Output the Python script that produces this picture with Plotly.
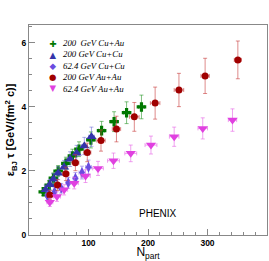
import plotly.graph_objects as go

# ---- data ----
cuau200_npart = [24, 34, 41, 49, 62, 73, 84, 104, 122, 143, 164, 189]
cuau200_val = [1.35, 1.56, 1.78, 2.0, 2.24, 2.47, 2.68, 2.97, 3.26, 3.54, 3.82, 4.0]
cuau200_err = [0.12, 0.14, 0.16, 0.17, 0.19, 0.21, 0.23, 0.25, 0.29, 0.31, 0.34, 0.37]
cuau200_xerr = [3, 3, 3, 4, 4, 4, 4, 5, 5, 5, 5, 5]

cucu200_npart = [28, 35, 41, 49, 59, 69, 80, 93, 105]
cucu200_val = [1.41, 1.57, 1.74, 1.93, 2.12, 2.37, 2.55, 2.78, 3.07]
cucu200_err = [0.15, 0.17, 0.18, 0.2, 0.21, 0.23, 0.25, 0.27, 0.3]
cucu200_xerr = [3, 3, 3, 4, 4, 4, 4, 5, 5]

cucu62_npart = [31, 43, 54, 66, 78, 89, 100]
cucu62_val = [1.22, 1.35, 1.46, 1.63, 1.77, 1.95, 2.12]
cucu62_err = [0.13, 0.14, 0.15, 0.17, 0.18, 0.2, 0.22]
cucu62_xerr = [3, 3, 4, 4, 4, 5, 5]

auau200_npart = [35, 48, 62, 78, 98, 121, 147, 177, 212, 252, 296, 351]
auau200_val = [1.25, 1.56, 1.91, 2.26, 2.58, 2.95, 3.31, 3.69, 4.12, 4.53, 4.97, 5.47]
auau200_err = [0.14, 0.17, 0.21, 0.25, 0.29, 0.33, 0.4, 0.45, 0.5, 0.52, 0.55, 0.59]
auau200_xerr = [4, 5, 5, 6, 6, 7, 7, 8, 8, 8, 7, 6]

auau62_npart = [35, 47, 59, 76, 95, 116, 142, 171, 205, 244, 292, 342]
auau62_val = [1.02, 1.2, 1.41, 1.62, 1.84, 2.08, 2.32, 2.55, 2.81, 3.07, 3.33, 3.59]
auau62_err = [0.13, 0.15, 0.16, 0.18, 0.2, 0.22, 0.24, 0.26, 0.28, 0.3, 0.33, 0.35]
auau62_xerr = [5, 6, 6, 7, 8, 9, 10, 10, 10, 8, 8, 7]

series = [
    ("200  GeV Cu+Au", cuau200_npart, cuau200_val, cuau200_err, cuau200_xerr,
     "#007800", "rgba(40,150,40,0.6)", "cross", 8, "\u271a"),
    ("200 GeV Cu+Cu", cucu200_npart, cucu200_val, cucu200_err, cucu200_xerr,
     "#3434aa", "rgba(90,90,210,0.5)", "triangle-up", 9, "\u25b2"),
    ("62.4 GeV Cu+Cu", cucu62_npart, cucu62_val, cucu62_err, cucu62_xerr,
     "#6a4ce0", "rgba(120,90,230,0.5)", "diamond-tall", 8, "\u25c6"),
    ("200 GeV Au+Au", auau200_npart, auau200_val, auau200_err, auau200_xerr,
     "#a00000", "rgba(200,60,60,0.6)", "circle", 7, "\u25cf"),
    ("62.4 GeV Au+Au", auau62_npart, auau62_val, auau62_err, auau62_xerr,
     "#e040e0", "rgba(230,100,230,0.6)", "triangle-down", 9, "\u25bc"),
]

fig = go.Figure()
for name, xs, ys, ey, ex, col, ecol, sym, sz, _ in series:
    fig.add_trace(go.Scatter(
        x=xs, y=ys, mode="markers", name=name, showlegend=False,
        marker=dict(symbol=sym, size=sz, color=col, line=dict(width=0)),
        error_y=dict(type="data", array=ey, color=ecol, thickness=1, width=2),
        error_x=dict(type="data", array=ex, color=ecol, thickness=1, width=2),
    ))

# legend drawn as text (symbols column + labels column)
sym_lines = "<br>".join(
    f"<span style='color:{s[5]}'>{s[9]}</span>" for s in series)
txt_lines = "<br>".join(f"<i>{s[0]}</i>" for s in series)
fig.add_annotation(xref="paper", yref="paper", x=0.097, y=0.805,
                   xanchor="center", yanchor="middle", showarrow=False,
                   text=sym_lines, align="center", borderpad=0,
                   font=dict(family="DejaVu Sans", size=8.5, color="black"))
fig.add_annotation(xref="paper", yref="paper", x=0.14, y=0.805,
                   xanchor="left", yanchor="middle", showarrow=False,
                   text=txt_lines, align="left", borderpad=0,
                   font=dict(family="Liberation Serif", size=8.8, color="black"))
fig.add_annotation(x=181, y=0.66, xanchor="left", yanchor="middle",
                   showarrow=False, text="PHENIX",
                   font=dict(family="Liberation Sans", size=10, color="black"))

axis_common = dict(showline=True, mirror=True, linecolor="#888888", linewidth=1,
                   ticks="inside", ticklen=6, tickcolor="#888888", showgrid=False,
                   zeroline=False, automargin=False,
                   tickfont=dict(family="Liberation Sans", size=8.5, color="black",
                                 weight="bold"))

fig.update_xaxes(range=[0, 400], tickvals=[100, 200, 300, 400],
                 minor=dict(dtick=20, ticks="inside", ticklen=3, tickcolor="#888888"),
                 title=dict(text="N<sub>part</sub>", standoff=1,
                            font=dict(family="Liberation Sans", size=12, color="black")),
                 **axis_common)
fig.update_yaxes(range=[0, 6.56], tickvals=[0, 2, 4, 6],
                 minor=dict(dtick=0.5, ticks="inside", ticklen=3, tickcolor="#888888"),
                 title=dict(text="\u03b5<sub>BJ</sub> \u03c4 [GeV/(fm<sup>2</sup> c)]",
                            standoff=4,
                            font=dict(family="Liberation Sans", size=11, color="black",
                                      weight="bold")),
                 **axis_common)

fig.update_layout(width=269, height=261, autosize=False,
                  margin=dict(l=29, r=2, t=25, b=26),
                  paper_bgcolor="white", plot_bgcolor="white")

fig.write_html("out.html", config={"displayModeBar": False},
               post_script="document.body.style.margin='0px';document.body.style.padding='0px';")
